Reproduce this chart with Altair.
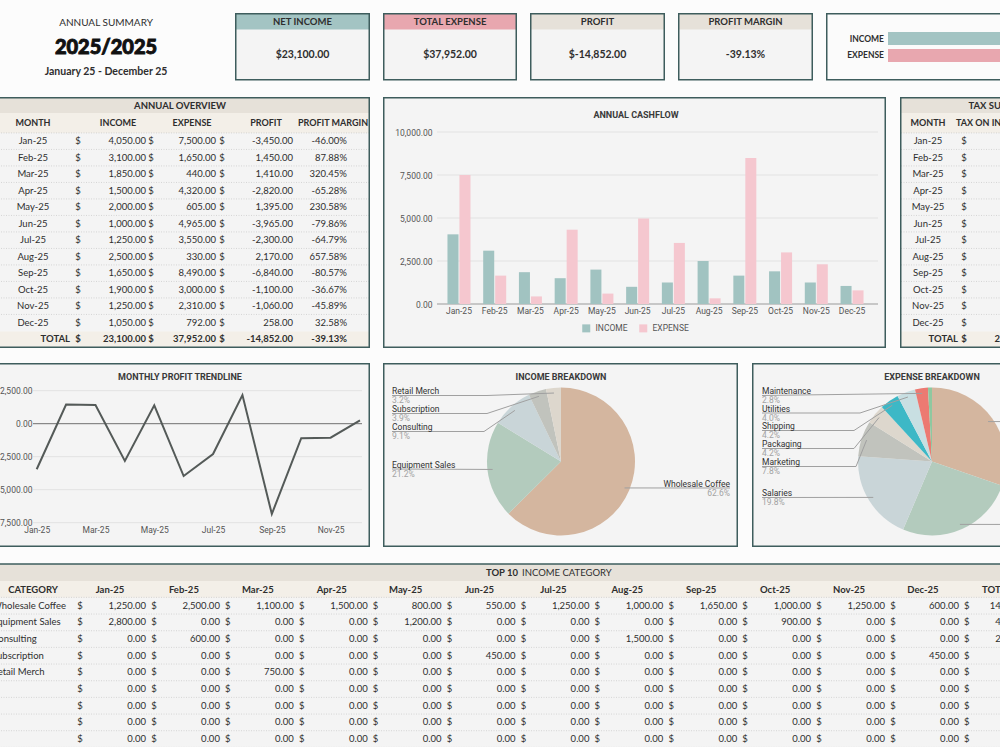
import math
import altair as alt
import pandas as pd

# ---------------- data ----------------
MONTHS = ["Jan-25", "Feb-25", "Mar-25", "Apr-25", "May-25", "Jun-25",
          "Jul-25", "Aug-25", "Sep-25", "Oct-25", "Nov-25", "Dec-25"]
INCOME = [4050, 3100, 1850, 1500, 2000, 1000, 1250, 2500, 1650, 1900, 1250, 1050]
EXPENSE = [7500, 1650, 440, 4320, 605, 4965, 3550, 330, 8490, 3000, 2310, 792]
TAX_ON_INCOME = [405, 310, 185, 150, 200, 100, 125, 250, 165, 190, 125, 105]

INCOME_CATEGORIES = ["Wholesale Coffee", "Equipment Sales", "Consulting", "Subscription", "Retail Merch"]
WHOLESALE_COFFEE = [1250, 2500, 1100, 1500, 800, 550, 1250, 1000, 1650, 1000, 1250, 600]
EQUIPMENT_SALES = [2800, 0, 0, 0, 1200, 0, 0, 0, 0, 900, 0, 0]
CONSULTING = [0, 600, 0, 0, 0, 0, 0, 1500, 0, 0, 0, 0]
SUBSCRIPTION = [0, 0, 0, 0, 0, 450, 0, 0, 0, 0, 0, 450]
RETAIL_MERCH = [0, 0, 750, 0, 0, 0, 0, 0, 0, 0, 0, 0]
EMPTY_CATEGORY_ROWS = 5

EXPENSE_CATEGORIES = ["Coffee Beans", "Rent", "Salaries", "Marketing", "Packaging",
                      "Shipping", "Utilities", "Maintenance", "Office Supplies"]
EXPENSE_TOTALS = [11500, 9900, 7500, 2950, 1600, 1580, 1520, 1070, 332]

CASHFLOW_TICKS = [0, 2500, 5000, 7500, 10000]
TREND_TICKS = [2500, 0, -2500, -5000, -7500]

# ---------------- derived ----------------
PROFIT = [i - e for i, e in zip(INCOME, EXPENSE)]
MARGIN = [p / e for p, e in zip(PROFIT, EXPENSE)]
TOTAL_INCOME = sum(INCOME)
TOTAL_EXPENSE = sum(EXPENSE)
TOTAL_PROFIT = TOTAL_INCOME - TOTAL_EXPENSE
TOTAL_MARGIN = TOTAL_PROFIT / TOTAL_EXPENSE
INCOME_SERIES = [WHOLESALE_COFFEE, EQUIPMENT_SALES, CONSULTING, SUBSCRIPTION, RETAIL_MERCH]
INCOME_BY_CATEGORY = [sum(s) for s in INCOME_SERIES]


def money(v):
    return f"{v:,.2f}"


def percent(v):
    return f"{v * 100:.2f}%"


# ---------------- styles ----------------
LATO = "Lato"
ROBOTO = "Roboto"
PAGE = "#fcfcfc"
PANEL = "#f4f4f4"
BORDER = "#3e5d5d"
BAND = "#e6e1d9"
SUBBAND = "#f3efe8"
TEAL = "#a3c4c3"
PINK = "#e8a7af"
BAR_INCOME = "#a1c3c1"
BAR_EXPENSE = "#f5c7cf"
TXT = "#2e2e2e"
CHART_TXT = "#555555"
GRID = "#e2e2e2"
LEADER = "#a0a0a0"
PCT_TXT = "#a3a3a3"
PALETTE = ["#d4b69f", "#b3cbbd", "#c9d5d8", "#c1c3bd", "#ddd7cd",
           "#3db8c6", "#c8dfe2", "#ec7a72", "#8fc8a0"]

ONE = pd.DataFrame({"k": [0]})


def rect(x0, x1, y0, y1, **kw):
    return alt.Chart(ONE).mark_rect(clip=True, **kw).encode(
        x=alt.value(x0), x2=alt.value(x1), y=alt.value(y0), y2=alt.value(y1))


def label(text, x, y, font=LATO, size=9.5, weight="normal", color=TXT, align="center", **kw):
    return alt.Chart(ONE).mark_text(
        text=text, clip=True, baseline="middle", align=align, font=font,
        fontSize=size, fontWeight=weight, color=color, **kw,
    ).encode(x=alt.value(x), y=alt.value(y))


def edges(w, open_left, open_right):
    return (-4 if open_left else 0.75), (w + 4 if open_right else w - 0.75)


def background(w, y0, y1, open_left=False, open_right=False, fill=PANEL):
    x0, x1 = edges(w, open_left, open_right)
    return rect(x0, x1, y0, y1, fill=fill)


def border(w, y0, y1, open_left=False, open_right=False):
    x0, x1 = edges(w, open_left, open_right)
    return rect(x0, x1, y0, y1, fillOpacity=0, stroke=BORDER, strokeWidth=1.5)


# ================= row 1: title + KPI cards + totals bar =================
ROW1_H = 69


def title_block():
    return alt.layer(
        label("ANNUAL SUMMARY", 106, 9.7, size=10),
        label("2025/2025", 106, 34.7, size=20, weight=900, color="#111111",
              stroke="#111111", strokeWidth=0.9),
        label("January 25 - December 25", 106, 58.7, size=10.5, weight="bold"),
    ).properties(width=222, height=ROW1_H)


def kpi_card(title, value, band_color, w):
    return alt.layer(
        background(w, 0.75, 66.75),
        rect(0.75, w - 0.75, 0.75, 16.5, fill=band_color),
        label(title, w / 2, 8.7, size=9.5, weight="bold"),
        label(value, w / 2, 42, size=10.5, weight="bold"),
        border(w, 0.75, 66.75),
    ).properties(width=w, height=ROW1_H)


def totals_bar(w):
    series = ["INCOME", "EXPENSE"]
    df = pd.DataFrame({"series": series, "total": [TOTAL_INCOME, TOTAL_EXPENSE]})
    ys = alt.Scale(domain=series, range=[19, 49], paddingInner=0.235, paddingOuter=0)
    bars = alt.Chart(df).mark_bar(clip=True).encode(
        x=alt.X("total:Q", scale=alt.Scale(domain=[0, 40000], range=[62, 420], nice=False), axis=None),
        y=alt.Y("series:N", scale=ys, axis=None),
        color=alt.Color("series:N", scale=alt.Scale(domain=series, range=[TEAL, PINK]), legend=None),
    )
    names = alt.Chart(df).mark_text(
        align="right", baseline="middle", font=LATO, fontSize=8.5, fontWeight="bold", color=TXT
    ).encode(x=alt.value(58), y=alt.Y("series:N", scale=ys, axis=None), text="series:N")
    return alt.layer(
        background(w, 0.75, 66.75, open_right=True, fill="#fbfbfb"),
        bars, names,
        border(w, 0.75, 66.75, open_right=True),
    ).properties(width=w, height=ROW1_H)


CARD_TITLES = ["NET INCOME", "TOTAL EXPENSE", "PROFIT", "PROFIT MARGIN"]
CARD_VALUES = ["$" + money(TOTAL_INCOME), "$" + money(TOTAL_EXPENSE),
               "$" + money(TOTAL_PROFIT), f"{TOTAL_MARGIN * 100:.2f}%"]
CARD_BANDS = [TEAL, PINK, BAND, BAND]
CARD_WIDTHS = [135, 134, 135, 135]

row1 = alt.hconcat(
    title_block(),
    *[kpi_card(t, v, b, w) for t, v, b, w in zip(CARD_TITLES, CARD_VALUES, CARD_BANDS, CARD_WIDTHS)],
    totals_bar(174),
    spacing=13, bounds="flush",
).resolve_scale(color="independent")

# ================= row 2: overview table, cashflow chart, tax table =================
ROW2_H = 251
ROW_Y0, ROW_STEP = 44.2, 16.5
row_scale = alt.Scale(domain=[0, 12], range=[ROW_Y0, ROW_Y0 + 12 * ROW_STEP], nice=False, zero=False)


def col_text(df, field, x, align, weight="normal", size=9.5):
    return alt.Chart(df).mark_text(
        align=align, baseline="middle", font=LATO, fontSize=size, fontWeight=weight,
        color=TXT, clip=True,
    ).encode(x=alt.value(x), y=alt.Y("row:Q", scale=row_scale, axis=None), text=f"{field}:N")


def col_dollar(df, x, weight="normal"):
    return alt.Chart(df).mark_text(
        text="$", align="center", baseline="middle", font=LATO, fontSize=9.5,
        fontWeight=weight, color=TXT, clip=True,
    ).encode(x=alt.value(x), y=alt.Y("row:Q", scale=row_scale, axis=None))


def separators(w, n, scale):
    df = pd.DataFrame({"sep": [r + 0.5 for r in range(-1, n)]})
    return alt.Chart(df).mark_rule(color="#cdcdcd", strokeWidth=0.8, strokeDash=[1, 1.5], clip=True).encode(
        y=alt.Y("sep:Q", scale=scale, axis=None), x=alt.value(-4), x2=alt.value(w + 4))


def overview_table(w):
    rows = pd.DataFrame({
        "row": list(range(12)), "month": MONTHS,
        "income": [money(v) for v in INCOME], "expense": [money(v) for v in EXPENSE],
        "profit": [money(v) for v in PROFIT], "margin": [percent(v) for v in MARGIN],
    })
    total = pd.DataFrame({
        "row": [12], "month": ["TOTAL"], "income": [money(TOTAL_INCOME)],
        "expense": [money(TOTAL_EXPENSE)], "profit": [money(TOTAL_PROFIT)],
        "margin": [percent(TOTAL_MARGIN)],
    })
    layers = [
        background(w, 0.75, ROW2_H - 0.75, open_left=True),
        rect(-4, w - 0.75, 0.75, 16, fill=BAND),
        rect(-4, w - 0.75, 16, 35.9, fill=SUBBAND),
        rect(-4, w - 0.75, 234.4, ROW2_H - 0.75, fill=SUBBAND),
        separators(w, 11, row_scale),
        label("ANNUAL OVERVIEW", 180, 8.7, weight="bold"),
    ]
    for text, x in [("MONTH", 33), ("INCOME", 118), ("EXPENSE", 192), ("PROFIT", 266), ("PROFIT MARGIN", 333)]:
        layers.append(label(text, x, 26.3, size=9, weight="bold"))
    for df, weight, month_x, month_align in [(rows, "normal", 33, "center"), (total, "bold", 70, "right")]:
        layers += [
            col_text(df, "month", month_x, month_align, weight),
            col_dollar(df, 78, weight),
            col_text(df, "income", 146, "right", weight),
            col_dollar(df, 151, weight),
            col_text(df, "expense", 216, "right", weight),
            col_dollar(df, 222, weight),
            col_text(df, "profit", 293, "right", weight),
            col_text(df, "margin", 347, "right", weight),
        ]
    layers.append(border(w, 0.75, ROW2_H - 0.75, open_left=True))
    return alt.layer(*layers).properties(width=w, height=ROW2_H)


def cashflow_chart(w):
    frame_w = w - 1
    series = ["INCOME", "EXPENSE"]
    df = pd.DataFrame({
        "month": MONTHS * 2,
        "series": ["INCOME"] * 12 + ["EXPENSE"] * 12,
        "value": INCOME + EXPENSE,
    })
    ys = alt.Scale(domain=[0, 10000], range=[207, 35], nice=False)
    y_axis = alt.Axis(orient="left", offset=-54, values=CASHFLOW_TICKS, format=",.2f",
                      labelPadding=5, ticks=False, domain=False, grid=False,
                      labelFont=ROBOTO, labelFontSize=8.5, labelColor=CHART_TXT, title=None, zindex=2)
    grid = alt.Chart(pd.DataFrame({"value": CASHFLOW_TICKS[1:]})).mark_rule(color=GRID, strokeWidth=1).encode(
        y=alt.Y("value:Q", scale=ys, axis=y_axis), x=alt.value(54), x2=alt.value(495))
    base = alt.Chart(pd.DataFrame({"value": [0]})).mark_rule(color="#9a9a9a", strokeWidth=1).encode(
        y=alt.Y("value:Q", scale=ys, axis=y_axis), x=alt.value(54), x2=alt.value(495))
    bars = alt.Chart(df).mark_bar().encode(
        x=alt.X("month:N", sort=MONTHS,
                scale=alt.Scale(domain=MONTHS, range=[58.1, 486.9], paddingInner=0.356, paddingOuter=0.178),
                axis=alt.Axis(orient="bottom", offset=-44, labelPadding=2.5, ticks=False, domain=False,
                              grid=False, labelAngle=0, labelFont=ROBOTO, labelFontSize=8.5,
                              labelColor=CHART_TXT, title=None, zindex=2)),
        xOffset=alt.XOffset("series:N", sort=series, scale=alt.Scale(domain=series, paddingInner=0.08)),
        y=alt.Y("value:Q", scale=ys, axis=y_axis),
        color=alt.Color("series:N", sort=series, scale=alt.Scale(domain=series, range=[BAR_INCOME, BAR_EXPENSE]),
                        legend=alt.Legend(orient="none", legendX=199, legendY=227, direction="horizontal",
                                          symbolType="square", symbolSize=64, symbolStrokeWidth=0,
                                          labelFont=ROBOTO, labelFontSize=8.5, labelColor=CHART_TXT,
                                          labelOffset=5, columnPadding=11, title=None, zindex=2)),
    )
    return alt.layer(
        background(frame_w, 0.75, ROW2_H - 0.75),
        grid, base, bars,
        label("ANNUAL CASHFLOW", 253, 18, font=ROBOTO, size=9, weight="bold", color="#3a3a3a"),
        border(frame_w, 0.75, ROW2_H - 0.75),
    ).properties(width=w, height=ROW2_H)


def tax_table(w):
    rows = pd.DataFrame({"row": list(range(12)), "month": MONTHS, "tax": [money(v) for v in TAX_ON_INCOME]})
    total = pd.DataFrame({"row": [12], "month": ["TOTAL"], "tax": [money(sum(TAX_ON_INCOME))]})
    layers = [
        background(w, 0.75, ROW2_H - 0.75, open_right=True),
        rect(0.75, w + 4, 0.75, 16, fill=BAND),
        rect(0.75, w + 4, 16, 35.9, fill=SUBBAND),
        rect(0.75, w + 4, 234.4, ROW2_H - 0.75, fill=SUBBAND),
        separators(w, 11, row_scale),
        label("TAX SUMMARY", 103, 8.7, weight="bold"),
        label("MONTH", 28, 26.3, size=9, weight="bold"),
        label("TAX ON INCOME", 92, 26.3, size=9, weight="bold"),
        col_text(rows, "month", 28, "center"),
        col_dollar(rows, 64),
        col_text(rows, "tax", 132, "right"),
        col_text(total, "month", 58, "right", "bold"),
        col_dollar(total, 64, "bold"),
        col_text(total, "tax", 132, "right", "bold"),
        border(w, 0.75, ROW2_H - 0.75, open_right=True),
    ]
    return alt.layer(*layers).properties(width=w, height=ROW2_H)


row2 = alt.hconcat(
    overview_table(370), cashflow_chart(504), tax_table(100), spacing=13, bounds="flush",
).resolve_scale(color="independent")

# ================= row 3: profit trendline and breakdown pies =================
ROW3_H = 185


def trend_chart(w):
    df = pd.DataFrame({"month": MONTHS, "profit": PROFIT})
    ys = alt.Scale(domain=[-7500, 2500], range=[159.7, 27.7], nice=False)
    grid = alt.Chart(pd.DataFrame({"v": [t for t in TREND_TICKS if t != 0]})).mark_rule(
        color=GRID, strokeWidth=1).encode(y=alt.Y("v:Q", scale=ys, axis=None), x=alt.value(33), x2=alt.value(362))
    zero = alt.Chart(pd.DataFrame({"v": [0]})).mark_rule(color="#6f6f6f", strokeWidth=1).encode(
        y=alt.Y("v:Q", scale=ys, axis=None), x=alt.value(33), x2=alt.value(362))
    ticks = alt.Chart(pd.DataFrame({"v": TREND_TICKS, "t": [money(v) for v in TREND_TICKS]})).mark_text(
        align="right", baseline="middle", font=ROBOTO, fontSize=8.5, color=CHART_TXT, clip=True,
    ).encode(y=alt.Y("v:Q", scale=ys, axis=None), x=alt.value(32.5), text="t:N")
    line = alt.Chart(df).mark_line(color="#545a58", strokeWidth=2).encode(
        x=alt.X("month:N", sort=MONTHS,
                scale=alt.Scale(type="point", domain=MONTHS, range=[36.7, 360], padding=0),
                axis=alt.Axis(orient="bottom", offset=-25.3, values=MONTHS[::2], labelPadding=2.5,
                              ticks=False, domain=False, grid=False, labelAngle=0, labelFont=ROBOTO,
                              labelFontSize=8.5, labelColor=CHART_TXT, title=None, zindex=2)),
        y=alt.Y("profit:Q", scale=ys, axis=None),
    )
    return alt.layer(
        background(w, 0.75, ROW3_H - 1.75, open_left=True),
        grid, zero, line, ticks,
        label("MONTHLY PROFIT TRENDLINE", 180, 14, font=ROBOTO, size=9, weight="bold", color="#3a3a3a"),
        border(w, 0.75, ROW3_H - 1.75, open_left=True),
    ).properties(width=w, height=ROW3_H)


def pie_chart(w, title, cats, values, layout, cx, cy, r, open_right=False):
    total = sum(values)
    df = pd.DataFrame({"cat": cats, "value": values, "rank": list(range(len(cats)))})
    arcs = alt.Chart(df).mark_arc(outerRadius=r, clip=True).encode(
        theta=alt.Theta("value:Q", stack=True),
        order=alt.Order("rank:Q"),
        color=alt.Color("cat:N", scale=alt.Scale(domain=cats, range=PALETTE[:len(cats)]), legend=None),
        x=alt.value(cx), y=alt.value(cy),
    )
    # leader lines run from each slice's middle to its label
    segs, left_lbl, right_lbl = [], [], []
    cum = 0.0
    for cat, v in zip(cats, values):
        mid = (cum + v / 2) / total * 2 * math.pi
        cum += v
        if cat not in layout:
            continue
        side, lx, ly, elbow = layout[cat]
        ax = cx + 0.93 * r * math.sin(mid)
        ay = cy - 0.93 * r * math.cos(mid)
        line_y = ly + 4.5
        if side == "right":
            segs.append((ax, ay, lx, line_y))
            right_lbl.append((cat, f"{v / total * 100:.1f}%", lx, ly))
        else:
            if elbow is None:
                segs.append((lx, line_y, ax, ay))
            else:
                segs.append((lx, line_y, elbow, line_y))
                segs.append((elbow, line_y, ax, ay))
            left_lbl.append((cat, f"{v / total * 100:.1f}%", lx, ly))
    xs = alt.Scale(domain=[0, w], range=[0, w], nice=False, zero=False)
    ysc = alt.Scale(domain=[0, ROW3_H], range=[0, ROW3_H], nice=False, zero=False)
    seg_df = pd.DataFrame(segs, columns=["x", "y", "x2", "y2"])
    leaders = alt.Chart(seg_df).mark_rule(color=LEADER, strokeWidth=1, clip=True).encode(
        x=alt.X("x:Q", scale=xs, axis=None), x2="x2:Q",
        y=alt.Y("y:Q", scale=ysc, axis=None), y2="y2:Q")
    frame_w = w if open_right else w - 1
    layers = [background(frame_w, 0.75, ROW3_H - 1.75, open_right=open_right), arcs, leaders]
    for rows, align in [(left_lbl, "left"), (right_lbl, "right")]:
        if not rows:
            continue
        ldf = pd.DataFrame(rows, columns=["cat", "pct", "lx", "ly"])
        ldf["py"] = ldf["ly"] + 9
        layers.append(alt.Chart(ldf).mark_text(
            align=align, baseline="middle", font=ROBOTO, fontSize=8.5, color="#333333", clip=True,
        ).encode(x=alt.X("lx:Q", scale=xs, axis=None), y=alt.Y("ly:Q", scale=ysc, axis=None), text="cat:N"))
        layers.append(alt.Chart(ldf).mark_text(
            align=align, baseline="middle", font=ROBOTO, fontSize=8.5, color=PCT_TXT, clip=True,
        ).encode(x=alt.X("lx:Q", scale=xs, axis=None), y=alt.Y("py:Q", scale=ysc, axis=None), text="pct:N"))
    layers.append(label(title, cx, 14, font=ROBOTO, size=9, weight="bold", color="#3a3a3a"))
    layers.append(border(frame_w, 0.75, ROW3_H - 1.75, open_right=open_right))
    return alt.layer(*layers).properties(width=w, height=ROW3_H)


# label placement: side, x, y, elbow x
INCOME_LABEL_LAYOUT = {
    "Wholesale Coffee": ("right", 347, 120.5, None),
    "Equipment Sales": ("left", 9, 101.5, None),
    "Consulting": ("left", 9, 64, 101),
    "Subscription": ("left", 9, 46, 104),
    "Retail Merch": ("left", 9, 28, 104),
}
EXPENSE_LABEL_LAYOUT = {
    "Coffee Beans": ("right", 330, 54, None),
    "Rent": ("right", 330, 157, None),
    "Salaries": ("left", 10, 130, None),
    "Marketing": ("left", 10, 99, 104),
    "Packaging": ("left", 10, 81, 102),
    "Shipping": ("left", 10, 63, 102),
    "Utilities": ("left", 10, 45.5, 108),
    "Maintenance": ("left", 10, 28, None),
}

row3 = alt.hconcat(
    trend_chart(370),
    pie_chart(356, "INCOME BREAKDOWN", INCOME_CATEGORIES, INCOME_BY_CATEGORY, INCOME_LABEL_LAYOUT, 178, 98.5, 74),
    pie_chart(248, "EXPENSE BREAKDOWN", EXPENSE_CATEGORIES, EXPENSE_TOTALS, EXPENSE_LABEL_LAYOUT, 180, 98.5, 74,
              open_right=True),
    spacing=13, bounds="flush",
).resolve_scale(color="independent")

# ================= row 4: top income categories by month =================
ROW4_H = 184


def top_income_table(w):
    names = INCOME_CATEGORIES + [""] * EMPTY_CATEGORY_ROWS
    series = INCOME_SERIES + [[0] * 12] * EMPTY_CATEGORY_ROWS
    cells = []
    for r, vals in enumerate(series):
        for c, v in enumerate(vals + [sum(vals)]):
            cells.append({"row": r, "col": c, "text": money(v)})
    cells = pd.DataFrame(cells)
    cats = pd.DataFrame({"row": list(range(len(names))), "cat": names})
    heads = pd.DataFrame({"col": list(range(13)), "head": MONTHS + ["TOTAL"]})
    xs = alt.Scale(domain=[0, 12], range=[146, 146 + 12 * 73.9], nice=False, zero=False)
    ys = alt.Scale(domain=[0, 9], range=[42.7, 42.7 + 9 * 16.67], nice=False, zero=False)
    values = alt.Chart(cells).mark_text(
        align="right", baseline="middle", font=LATO, fontSize=9.5, color=TXT, clip=True,
    ).encode(x=alt.X("col:Q", scale=xs, axis=None), y=alt.Y("row:Q", scale=ys, axis=None), text="text:N")
    dollars = alt.Chart(cells).mark_text(
        text="$", align="center", dx=-66, baseline="middle", font=LATO, fontSize=9.5, color=TXT, clip=True,
    ).encode(x=alt.X("col:Q", scale=xs, axis=None), y=alt.Y("row:Q", scale=ys, axis=None))
    headers = alt.Chart(heads).mark_text(
        align="center", dx=-36, baseline="middle", font=LATO, fontSize=9.5, fontWeight="bold",
        color=TXT, clip=True,
    ).encode(x=alt.X("col:Q", scale=xs, axis=None), y=alt.value(27), text="head:N")
    cat_text = alt.Chart(cats).mark_text(
        align="left", baseline="middle", font=LATO, fontSize=9.5, color=TXT, clip=True,
    ).encode(x=alt.value(-8), y=alt.Y("row:Q", scale=ys, axis=None), text="cat:N")
    return alt.layer(
        background(w, 1, ROW4_H + 4, open_left=True, open_right=True),
        rect(-4, w + 4, 1, 18, fill=BAND),
        rect(-4, w + 4, 18, 34.4, fill=SUBBAND),
        separators(w, 9, ys),
        label("TOP 10", 518, 10, weight="bold", align="right"),
        label("INCOME CATEGORY", 522, 10, align="left"),
        label("CATEGORY", 33, 27, weight="bold"),
        headers, cat_text, dollars, values,
        border(w, 1, ROW4_H + 4, open_left=True, open_right=True),
    ).properties(width=w, height=ROW4_H)


chart = alt.vconcat(
    row1, row2, row3, top_income_table(1000), spacing=15,
).resolve_scale(
    color="independent",
).properties(
    padding={"left": 0, "top": 13, "right": 0, "bottom": 0},
    background=PAGE,
).configure_view(strokeWidth=0)

chart.save("out.html", embed_options={"renderer": "svg", "actions": False})
